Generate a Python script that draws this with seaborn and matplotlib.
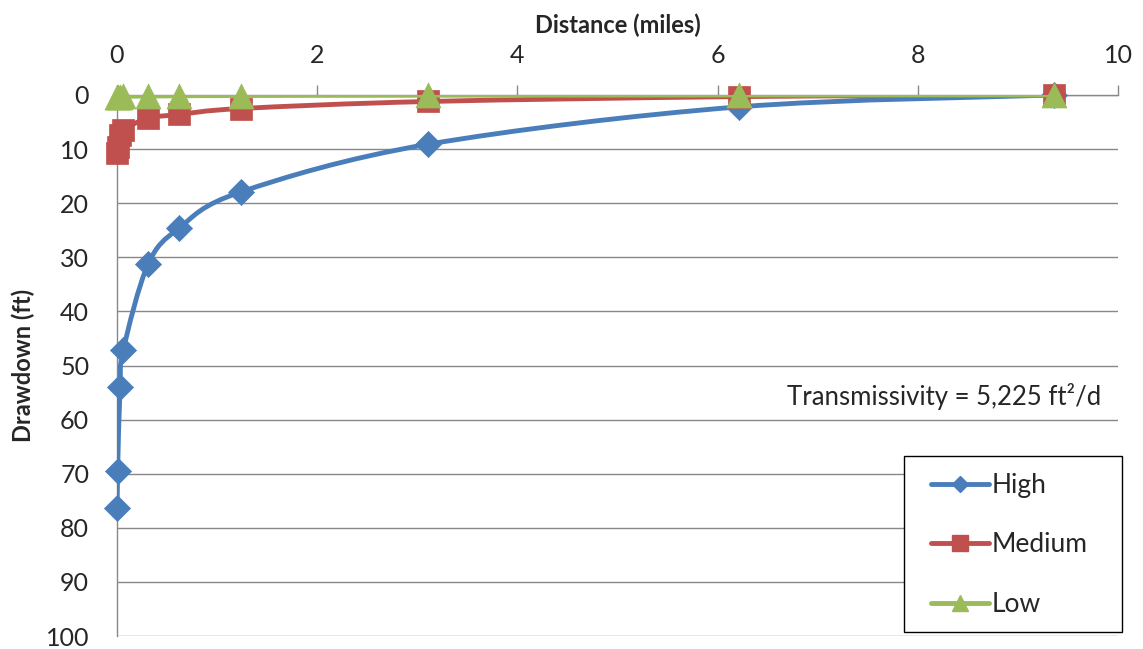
import numpy as np
import pandas as pd
import matplotlib
matplotlib.use("Agg")
import matplotlib.pyplot as plt
from matplotlib.path import Path
from matplotlib.patches import PathPatch, Rectangle
from matplotlib.lines import Line2D
import seaborn as sns

# Drawdown vs distance from the well
distance = [0.0031, 0.0062, 0.031, 0.062, 0.31, 0.62, 1.24, 3.11, 6.21, 9.36]
high = [76.3, 69.5, 54.0, 47.2, 31.3, 24.6, 17.9, 9.1, 2.2, 0.0]
medium = [10.8, 9.7, 7.4, 6.4, 4.3, 3.6, 2.5, 1.2, 0.3, 0.0]
low = [0.4, 0.35, 0.3, 0.25, 0.2, 0.15, 0.1, 0.05, 0.0, 0.0]

series_names = ["High", "Medium", "Low"]
x_ticks = [0, 2, 4, 6, 8, 10]
y_ticks = [0, 10, 20, 30, 40, 50, 60, 70, 80, 90, 100]
note = "Transmissivity = 5,225 ft\u00b2/d"

df = pd.DataFrame({
    "Distance": distance * 3,
    "Drawdown": high + medium + low,
    "Scenario": sum([[s] * len(distance) for s in series_names], []),
})

colors = {"High": "#4a7ebb", "Medium": "#c0504d", "Low": "#9bbb59"}
markers = {"High": "D", "Medium": "s", "Low": "^"}
msizes = {"High": 13.3, "Medium": 16.0, "Low": 18.0}
leg_msizes = {"High": 8, "Medium": 11, "Low": 11}


def smooth_path(x, y):
    # Excel-style smoothed line: Catmull-Rom segments as cubic Beziers
    pts = np.column_stack([x, y]).astype(float)
    n = len(pts)
    verts = [pts[0]]
    codes = [Path.MOVETO]
    for i in range(n - 1):
        p0 = pts[i - 1] if i > 0 else pts[i]
        p1, p2 = pts[i], pts[i + 1]
        p3 = pts[i + 2] if i + 2 < n else pts[i + 1]
        verts += [p1 + (p2 - p0) / 6, p2 - (p3 - p1) / 6, p2]
        codes += [Path.CURVE4] * 3
    return Path(verts, codes)


sns.set_style("white")
plt.rcParams["font.family"] = ["Lato", "DejaVu Sans"]

fig = plt.figure(figsize=(11.43, 6.49), dpi=100)
ax = fig.add_axes([117 / 1143, 1 - 636 / 649, 1001 / 1143, 541 / 649])

for z, name in enumerate(series_names):
    sub = df[df["Scenario"] == name]
    patch = PathPatch(smooth_path(sub["Distance"], sub["Drawdown"]), fill=False,
                      edgecolor=colors[name], lw=3.5, capstyle="round", zorder=3 + 2 * z)
    ax.add_patch(patch)
    n_before = len(ax.collections)
    sns.scatterplot(data=sub, x="Distance", y="Drawdown", marker=markers[name],
                    s=msizes[name] ** 2, color=colors[name], edgecolor=colors[name],
                    linewidth=0.5, ax=ax, zorder=4 + 2 * z, legend=False)
    for coll in ax.collections[n_before:]:
        coll.set_clip_on(False)

ax.set_xlim(0, 10)
ax.set_ylim(100, 0)
ax.set_xticks(x_ticks)
ax.set_yticks(y_ticks)
ax.xaxis.tick_top()
ax.xaxis.set_label_position("top")
ax.tick_params(axis="both", labelsize=18, colors="#262626", direction="out",
               length=7, width=1, color="#888888")
ax.tick_params(axis="x", pad=13)
ax.tick_params(axis="y", pad=13)
ax.set_xlabel("Distance (miles)", fontsize=17, fontweight="bold", labelpad=8)
ax.set_ylabel("Drawdown (ft)", fontsize=17, fontweight="bold", labelpad=8)

ax.grid(axis="y", color="#888888", lw=1)
ax.grid(axis="x", visible=False)
ax.set_axisbelow(True)
for side in ["right", "bottom"]:
    ax.spines[side].set_visible(False)
for side in ["left", "top"]:
    ax.spines[side].set_color("#888888")
    ax.spines[side].set_linewidth(1)

ax.text(9.83, 55.8, note, ha="right", va="center", fontsize=18.5, color="#262626")

# legend box
box = Rectangle((904 / 1143, 1 - 632 / 649), 218 / 1143, 176 / 649,
                transform=fig.transFigure, facecolor="white", edgecolor="black",
                lw=1, zorder=10, clip_on=False)
ax.add_patch(box)
handles = [Line2D([0], [0], color=colors[n], lw=3.5, marker=markers[n],
                  markersize=leg_msizes[n]) for n in series_names]
leg = ax.legend(handles, series_names, loc="center left",
                bbox_to_anchor=(931 / 1143, 1 - 545 / 649), bbox_transform=fig.transFigure,
                fontsize=19, frameon=False, handlelength=2.2, labelspacing=1.3,
                borderpad=0, handletextpad=0.1, borderaxespad=0)
leg.set_zorder(11)
for t in leg.get_texts():
    t.set_color("#262626")

fig.savefig("out.png", dpi=100)
